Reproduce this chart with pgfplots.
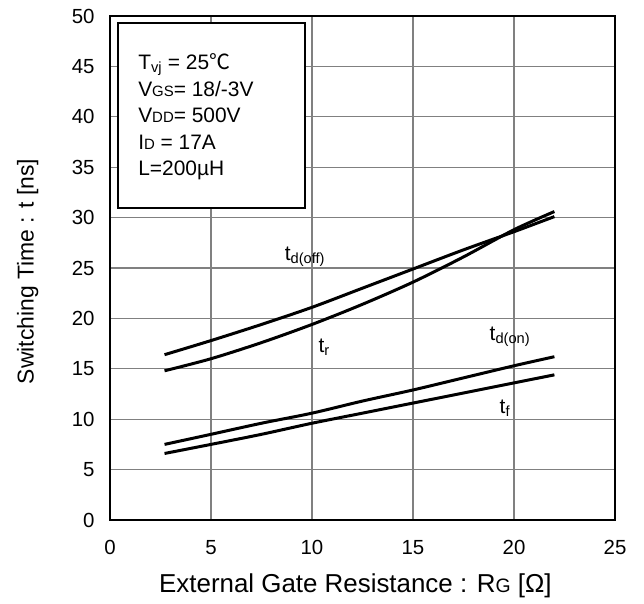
\documentclass[border=0pt]{standalone}
\usepackage{fontspec}
\setmainfont{Liberation Sans}
\newfontfamily\cjk{Noto Sans CJK SC}
\usepackage{pgfplots}
\pgfplotsset{compat=1.18}

\begin{document}
\begin{tikzpicture}
\begin{axis}[
  scale only axis, width=505bp, height=504bp,
  xmin=0, xmax=25, ymin=0, ymax=50,
  xtick={0,5,...,25}, ytick={0,5,...,50},
  grid=major,
  major grid style={draw=black!50, line width=1.2bp},
  axis line style={line width=1.5bp},
  major tick length=0pt,
  tick label style={font=\fontsize{20.5}{20.5}\selectfont},
  /pgf/number format/assume math mode=true,
  xticklabel style={anchor=base, yshift=-34bp},
  yticklabel style={xshift=-12bp},
  xlabel={External Gate Resistance : R{\fontsize{19.5}{19.5}\selectfont G} [Ω]},
  ylabel={Switching Time : t [ns]},
  xlabel style={font=\fontsize{26}{26}\selectfont,
    at={(axis description cs:0.486,-0.13)}, anchor=center},
  ylabel style={font=\fontsize{23}{23}\selectfont,
    at={(axis description cs:-0.163,0.493)}, anchor=center},
  clip=false,
]
% conditions box
\draw[fill=white, line width=1.5bp] (axis cs:0.4,49.3) rectangle (axis cs:9.65,30.95);
\node[anchor=west, align=left, inner sep=0pt,
      font=\fontsize{21}{26.7}\selectfont] at (axis cs:1.39,40.0)
  {T\textsubscript{vj} = 25{\cjk ℃}\\
   V{\fontsize{15}{15}\selectfont GS}= 18/-3V\\
   V{\fontsize{15}{15}\selectfont DD}= 500V\\
   I{\fontsize{15}{15}\selectfont D} = 17A\\
   L=200µH};

% t_d(off)
\addplot[black, line width=3bp, smooth] coordinates {
  (2.7,16.4) (5,17.8) (7.5,19.4) (10,21.1) (12.5,23.0) (15,24.9) (17.5,26.8) (20,28.6) (22,30.1)
};
% t_r
\addplot[black, line width=3bp, smooth] coordinates {
  (2.7,14.8) (5,16.0) (7.5,17.6) (10,19.4) (12.5,21.4) (15,23.6) (17.5,26.1) (20,28.8) (22,30.6)
};
% t_d(on)
\addplot[black, line width=3bp, smooth] coordinates {
  (2.7,7.5) (5,8.5) (7.5,9.6) (10,10.6) (12.5,11.8) (15,12.9) (17.5,14.1) (20,15.3) (22,16.2)
};
% t_f
\addplot[black, line width=3bp, smooth] coordinates {
  (2.7,6.6) (5,7.5) (7.5,8.5) (10,9.6) (12.5,10.6) (15,11.6) (17.5,12.6) (20,13.6) (22,14.4)
};

\node[font=\fontsize{21}{21}\selectfont] at (axis cs:9.65,26.1) {t\textsubscript{d(off)}};
\node[font=\fontsize{21}{21}\selectfont] at (axis cs:10.6,17.1) {t\textsubscript{r}};
\node[font=\fontsize{21}{21}\selectfont] at (axis cs:19.8,18.2) {t\textsubscript{d(on)}};
\node[font=\fontsize{21}{21}\selectfont] at (axis cs:19.55,11.1) {t\textsubscript{f}};

\coordinate (sw) at (rel axis cs:0,0);
\coordinate (ne) at (rel axis cs:1,1);
\end{axis}
\pgfresetboundingbox
\path[use as bounding box] ([shift={(-110bp,-84bp)}]sw) rectangle ([shift={(29bp,16bp)}]ne);
\end{tikzpicture}
\end{document}
